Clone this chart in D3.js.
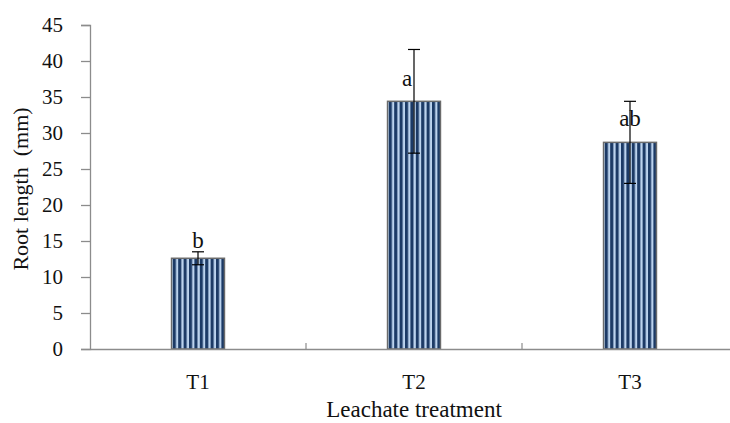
<!DOCTYPE html>
<html lang="en">
<head>
    <meta charset="UTF-8">
    <title>Root length by leachate treatment</title>
    <script src="https://d3js.org/d3.v7.min.js"></script>
    <style>
        body { margin: 0; background: #fff; }
        text { font-family: "Liberation Serif", "Times New Roman", serif; fill: #111; }
    </style>
</head>
<body>
    <script>
        // data
        const treatments = ["T1", "T2", "T3"];
        const rootLength = [12.6, 34.4, 28.7];
        const errors = [0.9, 7.2, 5.7];
        const letters = ["b", "a", "ab"];
        const letterY = [15.1, 37.6, 32.1];   // where the letters sit, in mm
        const letterDx = [0, -7, 0];
        const yTicks = [0, 5, 10, 15, 20, 25, 30, 35, 40, 45];

        const width = 730, height = 423;

        const svg = d3.select("body").append("svg")
            .attr("width", width)
            .attr("height", height);

        // striped fill for the bars
        const pat = svg.append("defs").append("pattern")
            .attr("id", "stripes")
            .attr("patternUnits", "userSpaceOnUse")
            .attr("width", 5.4)
            .attr("height", 10);
        pat.append("rect").attr("width", 5.4).attr("height", 10).attr("fill", "#bcd3ee");
        pat.append("rect").attr("width", 3.1).attr("height", 10).attr("fill", "#1c3a66");

        const x = d3.scaleBand()
            .domain(treatments)
            .range([90, 738])
            .paddingInner(0.755)
            .paddingOuter(0.3775);

        const y = d3.scaleLinear()
            .domain([0, 45])
            .range([349, 25]);

        // y axis
        const yAxis = svg.append("g")
            .attr("transform", "translate(90,0)")
            .call(d3.axisLeft(y).tickValues(yTicks).tickSize(9).tickPadding(18));
        yAxis.selectAll("path, line").attr("stroke", "#8c8c8c").attr("stroke-width", 1.3);
        yAxis.selectAll("text").attr("font-size", 21).attr("font-family", "Liberation Serif").attr("fill", "#111");

        // bars
        svg.selectAll(".bar")
            .data(treatments)
            .enter().append("rect")
            .attr("class", "bar")
            .attr("x", d => x(d))
            .attr("width", x.bandwidth())
            .attr("y", (d, i) => y(rootLength[i]))
            .attr("height", (d, i) => y(0) - y(rootLength[i]))
            .attr("fill", "url(#stripes)")
            .attr("stroke", "#6b6b6b")
            .attr("stroke-width", 1.5);

        // x axis
        const xAxis = svg.append("g")
            .attr("transform", `translate(0,${y(0)})`)
            .call(d3.axisBottom(x).tickSize(0).tickPadding(25));
        xAxis.select(".domain").attr("stroke", "#8c8c8c").attr("stroke-width", 1.5);
        xAxis.selectAll("text").attr("font-size", 21).attr("font-family", "Liberation Serif").attr("fill", "#111");

        // small ticks between categories
        const bounds = treatments.slice(1).map(d => x(d) - x.step() * x.paddingOuter());
        svg.selectAll(".sep")
            .data(bounds)
            .enter().append("line")
            .attr("x1", d => d).attr("x2", d => d)
            .attr("y1", y(0)).attr("y2", y(0) - 6)
            .attr("stroke", "#8c8c8c")
            .attr("stroke-width", 1.2);

        // error bars
        const eb = svg.selectAll(".err")
            .data(treatments)
            .enter().append("g")
            .attr("class", "err")
            .attr("transform", d => `translate(${x(d) + x.bandwidth() / 2},0)`);
        eb.append("line")
            .attr("y1", (d, i) => y(rootLength[i] + errors[i]))
            .attr("y2", (d, i) => y(rootLength[i] - errors[i]))
            .attr("stroke", "#000").attr("stroke-width", 1.2);
        eb.append("line")
            .attr("x1", -6).attr("x2", 6)
            .attr("y1", (d, i) => y(rootLength[i] + errors[i]))
            .attr("y2", (d, i) => y(rootLength[i] + errors[i]))
            .attr("stroke", "#000").attr("stroke-width", 1.2);
        eb.append("line")
            .attr("x1", -6).attr("x2", 6)
            .attr("y1", (d, i) => y(rootLength[i] - errors[i]))
            .attr("y2", (d, i) => y(rootLength[i] - errors[i]))
            .attr("stroke", "#000").attr("stroke-width", 1.2);

        // significance letters
        svg.selectAll(".letter")
            .data(letters)
            .enter().append("text")
            .attr("class", "letter")
            .attr("x", (d, i) => x(treatments[i]) + x.bandwidth() / 2 + letterDx[i])
            .attr("y", (d, i) => y(letterY[i]))
            .attr("dy", "0.35em")
            .attr("text-anchor", "middle")
            .attr("font-size", 23)
            .text(d => d);

        // axis titles
        svg.append("text")
            .attr("x", 414)
            .attr("y", 417)
            .attr("text-anchor", "middle")
            .attr("font-size", 23)
            .text("Leachate treatment");

        svg.append("text")
            .attr("transform", "translate(28,189) rotate(-90)")
            .attr("text-anchor", "middle")
            .attr("font-size", 22)
            .attr("xml:space", "preserve")
            .text("Root length  (mm)");
    </script>
</body>
</html>
